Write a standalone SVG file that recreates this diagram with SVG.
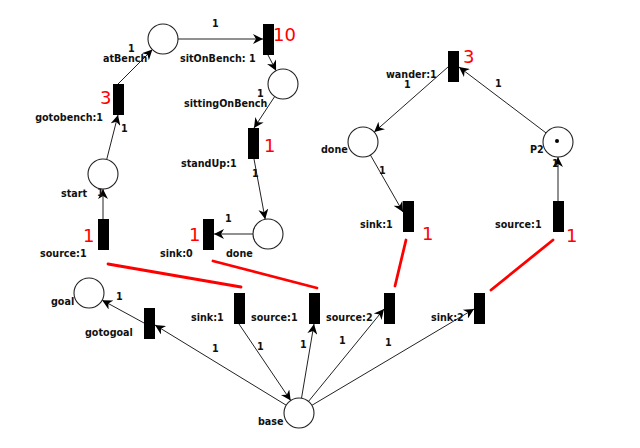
<svg xmlns="http://www.w3.org/2000/svg" width="640" height="448" viewBox="0 0 640 448">
<style>
.pl{fill:#fff;stroke:#222;stroke-width:1.1}
.tr{fill:#000}
.lb{font-family:"DejaVu Sans",sans-serif;font-weight:bold;font-size:9.6px;fill:#111}
.red{font-family:"DejaVu Sans",sans-serif;font-size:18px;fill:#f00}
.arc{fill:none;stroke:#222;stroke-width:1;marker-end:url(#ah)}
.rl{stroke:#f00;stroke-width:2.8;stroke-linecap:round}
</style>
<defs>
<marker id="ah" viewBox="0 0 10 10" refX="10" refY="5" markerWidth="12" markerHeight="10" markerUnits="userSpaceOnUse" orient="auto">
<path d="M0,0 L10,5 L0,10 L3,5 z" fill="#000"/>
</marker>
</defs>
<rect width="640" height="448" fill="#fff"/>
<g id="connectors">
<line class="arc" x1="178" y1="39" x2="263" y2="39"/>
<line class="arc" x1="268" y1="55" x2="276.1" y2="70.7"/>
<line class="arc" x1="118" y1="84" x2="152.4" y2="49.6"/>
<line class="arc" x1="106.7" y1="159.5" x2="118" y2="115"/>
<line class="arc" x1="274.7" y1="96.5" x2="254" y2="128"/>
<line class="arc" x1="254" y1="159" x2="265.2" y2="219.2"/>
<line class="arc" x1="253" y1="234" x2="214" y2="234"/>
<line class="arc" x1="103" y1="219" x2="103" y2="189"/>
<line class="arc" x1="448" y1="67" x2="374.2" y2="132.1"/>
<line class="arc" x1="546" y1="132.9" x2="459" y2="67"/>
<line class="arc" x1="370.4" y1="155" x2="403" y2="212"/>
<line class="arc" x1="558" y1="201" x2="558" y2="157"/>
<line class="arc" x1="286.2" y1="405.2" x2="155" y2="325"/>
<line class="arc" x1="144" y1="323" x2="102.2" y2="300.2"/>
<line class="arc" x1="239" y1="324" x2="290.7" y2="400.5"/>
<line class="arc" x1="301.5" y1="398.2" x2="314" y2="324"/>
<line class="arc" x1="308.5" y1="401.4" x2="384" y2="309"/>
<line class="arc" x1="311.9" y1="405.3" x2="474" y2="309"/>
<g class="lb">
<text x="212" y="27">1</text>
<text x="128" y="52">1</text>
<text x="257" y="97">1</text>
<text x="121" y="132">1</text>
<text x="252" y="177">1</text>
<text x="97" y="196">1</text>
<text x="225" y="222">1</text>
<text x="404" y="88">1</text>
<text x="495" y="87">1</text>
<text x="552" y="167">1</text>
<text x="379" y="174">1</text>
<text x="116" y="300">1</text>
<text x="212" y="352">1</text>
<text x="257" y="350">1</text>
<text x="300" y="348">1</text>
<text x="339" y="344">1</text>
<text x="385" y="346">1</text>
</g>
</g>
<g id="atBench"><circle class="pl" cx="163" cy="39" r="15"/><text class="lb" x="103" y="62">atBench</text></g>
<g id="sittingOnBench"><circle class="pl" cx="283" cy="84" r="15"/><text class="lb" x="184" y="107">sittingOnBench</text></g>
<g id="start"><circle class="pl" cx="103" cy="174" r="15"/><text class="lb" x="61" y="197">start</text></g>
<g id="done1"><circle class="pl" cx="268" cy="234" r="15"/><text class="lb" x="226" y="257">done</text></g>
<g id="done2"><circle class="pl" cx="363" cy="142" r="15"/><text class="lb" x="321" y="153">done</text></g>
<g id="P2"><circle class="pl" cx="558" cy="142" r="15"/><circle cx="557" cy="141" r="2" fill="#000"/><text class="lb" x="530" y="153">P2</text></g>
<g id="goal"><circle class="pl" cx="89" cy="293" r="15"/><text class="lb" x="51" y="305">goal</text></g>
<g id="base"><circle class="pl" cx="299" cy="413" r="15"/><text class="lb" x="258" y="425">base</text></g>
<g id="sitOnBench"><rect class="tr" x="263" y="24" width="11" height="31"/><text class="lb" x="180" y="62">sitOnBench:</text><text class="lb" x="249" y="62">1</text></g>
<g id="gotobench"><rect class="tr" x="113" y="84" width="11" height="31"/><text class="lb" x="103" y="121" text-anchor="end">gotobench:1</text></g>
<g id="standUp"><rect class="tr" x="248" y="128" width="11" height="31"/><text class="lb" x="181" y="167">standUp:1</text></g>
<g id="source1a"><rect class="tr" x="98" y="219" width="11" height="31"/><text class="lb" x="40" y="257">source:1</text></g>
<g id="sink0"><rect class="tr" x="203" y="219" width="11" height="31"/><text class="lb" x="160" y="257">sink:0</text></g>
<g id="wander"><rect class="tr" x="448" y="51" width="11" height="31"/><text class="lb" x="386" y="78">wander:1</text></g>
<g id="sink1a"><rect class="tr" x="403" y="201" width="11" height="31"/><text class="lb" x="360" y="228">sink:1</text></g>
<g id="source1b"><rect class="tr" x="553" y="201" width="11" height="31"/><text class="lb" x="495" y="228">source:1</text></g>
<g id="gotogoal"><rect class="tr" x="144" y="308" width="11" height="31"/><text class="lb" x="85" y="336">gotogoal</text></g>
<g id="sink1b"><rect class="tr" x="234" y="293" width="11" height="31"/><text class="lb" x="191" y="321">sink:1</text></g>
<g id="source1c"><rect class="tr" x="309" y="293" width="11" height="31"/><text class="lb" x="251" y="321">source:1</text></g>
<g id="source2"><rect class="tr" x="384" y="293" width="11" height="31"/><text class="lb" x="326" y="321">source:2</text></g>
<g id="sink2"><rect class="tr" x="474" y="293" width="11" height="31"/><text class="lb" x="431" y="321">sink:2</text></g>
<g id="annotations">
<line class="rl" x1="108" y1="264" x2="241" y2="287"/>
<line class="rl" x1="213" y1="261" x2="317" y2="288"/>
<line class="rl" x1="406" y1="240" x2="395" y2="286"/>
<line class="rl" x1="553" y1="240" x2="491" y2="290"/>
<text class="red" x="273" y="41">10</text>
<text class="red" x="100" y="104">3</text>
<text class="red" x="264" y="152">1</text>
<text class="red" x="83" y="242">1</text>
<text class="red" x="189" y="241">1</text>
<text class="red" x="463" y="63">3</text>
<text class="red" x="422" y="240">1</text>
<text class="red" x="566" y="242">1</text>
</g>
</svg>
